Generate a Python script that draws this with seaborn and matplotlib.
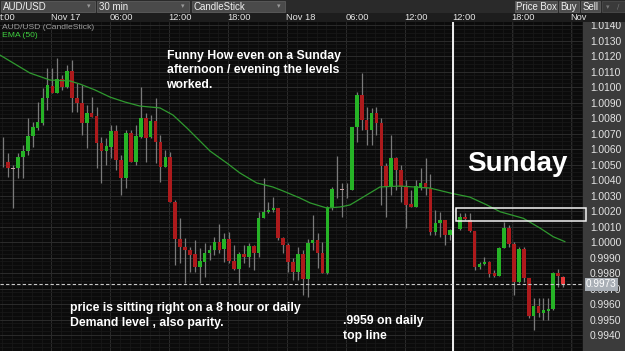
import numpy as np
import pandas as pd
import matplotlib
matplotlib.use("Agg")
import matplotlib.pyplot as plt
import matplotlib.transforms as mtransforms
from matplotlib.patches import Rectangle
import seaborn as sns

# ---------------- data (AUD/USD 30 min candles) ----------------
opens = [1.00516, 1.00518, 1.00475, 1.00475, 1.00550, 1.00589, 1.00684, 1.00737, 1.00770, 1.00927,
         1.01008, 1.00959, 1.01050, 1.01002, 1.01103, 1.00927, 1.00895, 1.00770, 1.00830, 1.00813,
         1.00637, 1.00589, 1.00615, 1.00716, 1.00529, 1.00411, 1.00705, 1.00518, 1.00679, 1.00802,
         1.00677, 1.00781, 1.00647, 1.00486, 1.00550, 1.00260, 1.00017, 0.99966, 0.99948, 0.99923,
         0.99837, 0.99873, 0.99931, 0.99948, 0.99998, 0.99953, 1.00017, 0.99877, 0.99824, 0.99921,
         0.99905, 0.99974, 0.99927, 1.00153, 1.00195, 1.00206, 1.00217, 1.00024, 0.99981, 0.99873,
         0.99806, 0.99923, 0.99759, 0.99992, 1.00013, 0.99931, 0.99798, 1.00228, 1.00335, 1.00340,
         1.00335, 1.00335, 1.00744, 1.00948, 1.00787, 1.00723, 1.00830, 1.00770, 1.00490, 1.00357,
         1.00540, 1.00465, 1.00353, 1.00245, 1.00228, 1.00357, 1.00379, 1.00346, 1.00066, 1.00125,
         1.00142, 1.00045,
         1.00082, 1.00159, 1.00142, 1.00071, 0.99841, 0.99858, 0.99873, 0.99798, 0.99781, 0.99963,
         1.00092, 0.99987, 0.99744, 0.99955, 0.99766, 0.99523, 0.99589, 0.99540, 0.99557, 0.99566,
         0.99798, 0.99777]
highs = [1.00677, 1.00574, 1.00497, 1.00574, 1.00626, 1.00800, 1.00776, 1.00905, 1.00994, 1.01123,
         1.01123, 1.01187, 1.01077, 1.01142, 1.01174, 1.01026, 1.01013, 1.00884, 1.00937, 1.00873,
         1.00679, 1.00671, 1.00755, 1.00755, 1.00561, 1.00723, 1.00723, 1.00755, 1.01000, 1.00832,
         1.00819, 1.00929, 1.00690, 1.00594, 1.00583, 1.00271, 1.00155, 1.00026, 0.99970, 1.00013,
         0.99961, 0.99994, 0.99981, 1.00034, 1.00116, 1.00058, 1.00066, 0.99981, 0.99937, 0.99981,
         0.99994, 0.99981, 1.00195, 1.00413, 1.00260, 1.00292, 1.00217, 1.00034, 0.99994, 0.99897,
         0.99970, 0.99948, 1.00017, 1.00174, 1.00058, 1.00002, 1.00232, 1.00357, 1.00555, 1.00379,
         1.00379, 1.00744, 1.00970, 1.01090, 1.00873, 1.00865, 1.00873, 1.00800, 1.00510, 1.00690,
         1.00550, 1.00497, 1.00400, 1.00335, 1.00400, 1.00475, 1.00540, 1.00439, 1.00206, 1.00195,
         1.00142, 1.00084,
         1.00187, 1.00189, 1.00187, 1.00071, 0.99871, 0.99905, 0.99877, 0.99819, 0.99968, 1.00131,
         1.00110, 1.00000, 0.99970, 0.99970, 0.99766, 0.99639, 0.99639, 0.99639, 0.99639, 0.99808,
         0.99826, 0.99781]
lows = [1.00484, 1.00419, 1.00219, 1.00413, 1.00413, 1.00561, 1.00615, 1.00723, 1.00755, 1.00852,
        1.00959, 1.00959, 1.00981, 1.00994, 1.00839, 1.00839, 1.00690, 1.00606, 1.00808, 1.00475,
        1.00381, 1.00497, 1.00542, 1.00465, 1.00303, 1.00348, 1.00516, 1.00497, 1.00671, 1.00516,
        1.00671, 1.00510, 1.00389, 1.00484, 1.00260, 0.99852, 0.99865, 0.99735, 0.99808, 0.99808,
        0.99735, 0.99776, 0.99884, 0.99916, 0.99929, 0.99873, 0.99865, 0.99819, 0.99735, 0.99863,
        0.99841, 0.99819, 0.99905, 1.00153, 1.00187, 1.00195, 1.00013, 0.99927, 0.99808, 0.99755,
        0.99755, 0.99658, 0.99647, 0.99948, 0.99832, 0.99798, 0.99794, 1.00206, 1.00282, 1.00159,
        1.00282, 1.00335, 1.00647, 1.00723, 1.00626, 1.00626, 1.00690, 1.00239, 1.00163, 1.00303,
        1.00335, 1.00260, 1.00090, 1.00228, 1.00228, 1.00335, 1.00303, 1.00045, 1.00045, 1.00034,
        0.99981, 1.00013,
        1.00077, 1.00142, 1.00066, 0.99819, 0.99826, 0.99852, 0.99776, 0.99776, 0.99781, 0.99961,
        0.99970, 0.99658, 0.99734, 0.99744, 0.99508, 0.99432, 0.99518, 0.99497, 0.99497, 0.99561,
        0.99712, 0.99712]
closes = [1.00516, 1.00475, 1.00475, 1.00550, 1.00589, 1.00684, 1.00744, 1.00776, 1.00927, 1.01013,
          1.00959, 1.01050, 1.01002, 1.01103, 1.00927, 1.00895, 1.00770, 1.00830, 1.00808, 1.00637,
          1.00589, 1.00619, 1.00716, 1.00529, 1.00411, 1.00705, 1.00518, 1.00684, 1.00802, 1.00669,
          1.00781, 1.00645, 1.00486, 1.00550, 1.00260, 1.00017, 0.99966, 0.99948, 0.99916, 0.99837,
          0.99877, 0.99931, 0.99948, 0.99998, 0.99948, 1.00017, 0.99877, 0.99824, 0.99921, 0.99905,
          0.99974, 0.99927, 1.00153, 1.00195, 1.00206, 1.00217, 1.00024, 0.99981, 0.99873, 0.99806,
          0.99923, 0.99759, 0.99992, 1.00013, 0.99931, 0.99798, 1.00228, 1.00340, 1.00335, 1.00340,
          1.00335, 1.00744, 1.00948, 1.00787, 1.00723, 1.00830, 1.00770, 1.00490, 1.00357, 1.00540,
          1.00465, 1.00353, 1.00239, 1.00228, 1.00361, 1.00379, 1.00346, 1.00066, 1.00125, 1.00142,
          1.00045, 1.00077,
          1.00159, 1.00146, 1.00071, 0.99841, 0.99858, 0.99873, 0.99794, 0.99781, 0.99963, 1.00092,
          0.99987, 0.99744, 0.99955, 0.99766, 0.99523, 0.99589, 0.99540, 0.99561, 0.99566, 0.99798,
          0.99781, 0.99729]
candles_before_weekend = 92          # Friday candles before the session break

# EMA(50) (candle slot, value)
ema_at = [-0.67, 5.44, 9.51, 13.58, 15.62, 18.67, 21.73, 24.78, 27.84, 31.91, 34.56, 37.41,
          42.1, 45.5, 48.2, 51.6, 54.9, 57.0, 60.4, 62.5, 65.9, 68.6, 70.6, 73.3, 76.7, 80.8,
          86.9, 91.3, 95.0, 98.5, 101.2, 105.9, 109.3, 112.0, 114.4]
ema_val = [1.01206, 1.01090, 1.01045, 1.01039, 1.01019, 1.00981, 1.00935, 1.00903, 1.00877,
           1.00865, 1.00819, 1.00735, 1.00587, 1.00510, 1.00445, 1.00381, 1.00355, 1.00329,
           1.00284, 1.00252, 1.00219, 1.00226, 1.00239, 1.00290, 1.00355, 1.00361, 1.00348,
           1.00314, 1.00290, 1.00239, 1.00195, 1.00153, 1.00090, 1.00034, 1.00002]

last_price = 0.9973
zone_low, zone_high = 1.00137, 1.00217
price_ticks = [round(0.9940 + 0.001 * k, 4) for k in range(21)]
time_labels = ["Nov 17", "06:00", "12:00", "18:00", "Nov 18", "06:00", "12:00",
               "12:00", "18:00", "Nov"]
time_slots = [9.8, 21.8, 33.8, 45.8, 57.8, 69.8, 81.8, 91.6, 103.6, 115.6]
dropdowns = ["AUD/USD", "30 min", "CandleStick"]
buttons = ["Price Box", "Buy", "Sell"]

# ---------------- styling ----------------
sns.set_theme(style="dark")
plt.rcParams['font.family'] = ['Liberation Sans', 'DejaVu Sans']

W, H = 625, 351
def fx(px):
    return px / W
def fy(py):
    return 1 - py / H

BG = '#0b0b0b'
fig = plt.figure(figsize=(W / 100, H / 100), dpi=100, facecolor=BG)
ax = fig.add_axes([0, 0, fx(583), (H - 22) / H])
ax.set_facecolor(BG)

df = pd.DataFrame({"open": opens, "high": highs, "low": lows, "close": closes})
pos = np.arange(len(df), dtype=float)
pos[candles_before_weekend:] += 1
df["x"] = pos

# grid
ax.set_yticks(price_ticks)
ax.set_yticks(np.arange(0.9930, 1.0145, 0.00025), minor=True)
ax.set_xticks(time_slots)
ax.set_xticks(np.arange(-0.2, 118, 2.0), minor=True)
ax.grid(which='major', color='#2c2c2c', lw=0.7)
ax.grid(which='minor', color='#181818', lw=0.6)
ax.tick_params(axis='x', which='both', length=0, labelbottom=False)
ax.tick_params(axis='y', which='both', length=0)
ax.yaxis.tick_right()
ax.set_yticklabels([f"{t:.4f}" for t in price_ticks], color='#e4e4e4', fontsize=7.4)
ax.tick_params(axis='y', pad=5)
for s in ax.spines.values():
    s.set_visible(False)

# wicks
ax.vlines(df["x"], df["low"], df["high"], color='#7a7a7a', lw=0.9, zorder=2)

# bodies
body_lo = np.minimum(df["open"], df["close"])
body_h = np.abs(df["close"] - df["open"])
is_doji = body_h < 0.00003
body_h = np.where(is_doji, 0.00004, body_h)
body_lo = np.where(is_doji, body_lo - 0.00002, body_lo)
colors = np.where(df["close"] > df["open"], '#26b326', '#ad1a1c').astype(object)
colors[is_doji] = '#c9a3a3'
colors[-1] = '#e8393a'
ax.bar(df["x"], body_h, bottom=body_lo, width=0.74, color=list(colors),
       edgecolor='none', linewidth=0, zorder=3)

# EMA
sns.lineplot(x=ema_at, y=ema_val, ax=ax, color='#2f9a2f', lw=0.9, zorder=4,
             estimator=None, sort=False)

ax.set_xlim(-0.67, 118.06)
ax.set_ylim(0.992968, 1.014194)
ax.set_xlabel("")
ax.set_ylabel("")

# session separator, last price, zone
sep = candles_before_weekend - 0.45
ax.axvline(sep, color='#f0f0f0', lw=1.4, zorder=5)
ax.axhline(last_price, color='#c8c8c8', lw=0.8, ls=(0, (3, 2)), zorder=5)
ax.add_patch(Rectangle((sep + 0.55, zone_low), 118.6 - sep - 0.55, zone_high - zone_low,
                       fill=False, edgecolor='#f2f2f2', lw=1.1, zorder=6, clip_on=False))

# ---------------- chrome ----------------
# right price panel
fig.patches.append(Rectangle((fx(583), 0), fx(625) - fx(583) + 0.01, fy(22), transform=fig.transFigure,
                             facecolor='#3b3b3b', edgecolor='none', zorder=-1))
# header band and time row
fig.patches.append(Rectangle((0, fy(12.7)), 1, 12.7 / H, transform=fig.transFigure,
                             facecolor='#2a2a2a', edgecolor='none', zorder=1))
fig.patches.append(Rectangle((0, fy(22)), 1, 9.3 / H, transform=fig.transFigure,
                             facecolor='#1d1d1d', edgecolor='none', zorder=1))

box_x = [(0.5, 95), (97, 189), (192, 285)]
for label, (x0, x1) in zip(dropdowns, box_x):
    fig.patches.append(Rectangle((fx(x0), fy(12.2)), fx(x1 - x0), 10.8 / H, transform=fig.transFigure,
                                 facecolor='#4a4a4a', edgecolor='#5c5c5c', lw=0.6, zorder=2))
    fig.text(fx(x0 + 2), fy(6.8), label, color='#f0f0f0', fontsize=7.0, va='center', ha='left', zorder=3)
    fig.text(fx(x1 - 6), fy(6.5), "\u25be", color='#9a9a9a', fontsize=5, va='center', ha='center',
             family=['DejaVu Sans'], zorder=3)

btn_x = [(515, 557), (559, 579), (581, 600)]
for label, (x0, x1) in zip(buttons, btn_x):
    fig.patches.append(Rectangle((fx(x0), fy(12.2)), fx(x1 - x0), 10.8 / H, transform=fig.transFigure,
                                 facecolor='#4d4d4d', edgecolor='#5e5e5e', lw=0.6, zorder=2))
    fig.text(fx((x0 + x1) / 2), fy(6.8), label, color='#f2f2f2', fontsize=6.9, va='center',
             ha='center', zorder=3)
fig.patches.append(Rectangle((fx(602), fy(12.2)), fx(23), 10.8 / H, transform=fig.transFigure,
                             facecolor='#3a3a3a', edgecolor='#4a4a4a', lw=0.6, zorder=2))
fig.text(fx(608), fy(6.8), "\u25be", color='#777777', fontsize=5, va='center', ha='center',
         family=['DejaVu Sans'], zorder=3)
fig.text(fx(618), fy(6.8), "\u2215", color='#777777', fontsize=5, va='center', ha='center',
         family=['DejaVu Sans'], zorder=3)

# time labels (left aligned at their slot)
trans = mtransforms.blended_transform_factory(ax.transData, fig.transFigure)
fig.text(fx(0), fy(17.5), "t:00", color='#e6e6e6', fontsize=6.7, va='center', ha='left', zorder=3)
for lab, slot in zip(time_labels, time_slots):
    fig.text(slot - 0.15, fy(17.5), lab, transform=trans, color='#e6e6e6', fontsize=6.7,
             va='center', ha='left', zorder=3)

# chart legend text
fig.text(fx(2.5), fy(27.6), "AUD/USD (CandleStick)", color='#9c9c9c', fontsize=6.1, va='center', ha='left')
fig.text(fx(2.5), fy(35.6), "EMA (50)", color='#3fcf3f', fontsize=6.1, va='center', ha='left')

# current price tag
fig.text(fx(586), fy(284), f"{last_price:.4f}", color='#ffffff', fontsize=7.2, va='center', ha='left',
         bbox=dict(boxstyle='square,pad=0.15', facecolor='#a9afb6', edgecolor='none'), zorder=5)

# annotations
note = dict(color='white', fontweight='bold', fontsize=8.8, ha='left', va='center', linespacing=1.3)
fig.text(fx(166.5), fy(70.5), "Funny How even on a Sunday\nafternoon / evening the levels\nworked.", **note)
fig.text(fx(69.5), fy(315.5), "price is sitting right on a 8 hour or daily\nDemand level , also parity.", **note)
fig.text(fx(343), fy(328.5), ".9959 on daily\ntop line", **note)
fig.text(fx(467), fy(164), "Sunday", color='white', fontweight='bold', fontsize=20, ha='left', va='center')

fig.savefig("out.png", dpi=100, facecolor=BG)
